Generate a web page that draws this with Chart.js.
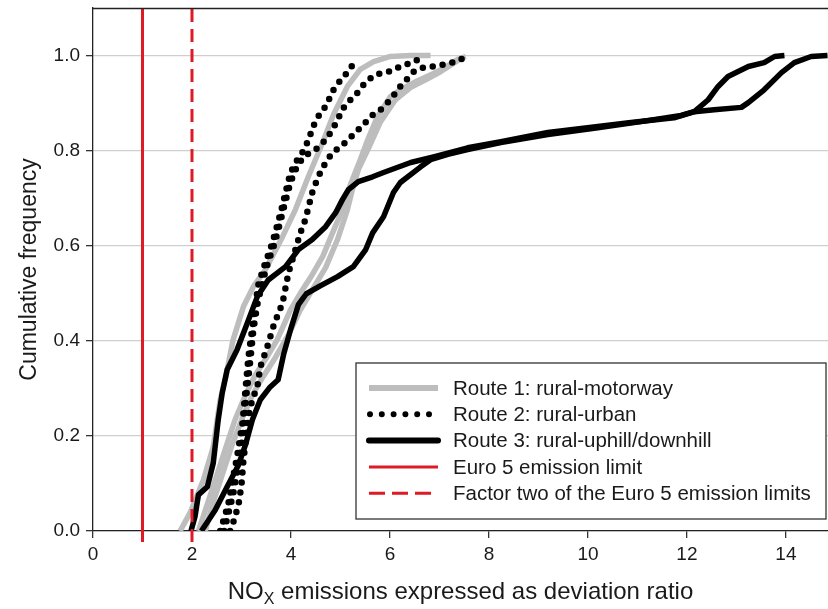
<!DOCTYPE html>
<html>
<head>
<meta charset="utf-8">
<script src="https://cdn.jsdelivr.net/npm/chart.js@4.4.1/dist/chart.umd.min.js"></script>
<style>
  html, body { margin: 0; padding: 0; background: #fff; }
  #wrap { width: 828px; height: 609px; }
</style>
</head>
<body>
<div id="wrap"><canvas id="cdfChart"></canvas></div>
<script>
// eixos
const xTicks = [0, 2, 4, 6, 8, 10, 12, 14];
const yTicks = [0, 0.2, 0.4, 0.6, 0.8, 1.0];
const xMax = 14.85;
const yMax = 1.1;

// limites Euro 5 (x = 1) e fator dois (x = 2)
const euroLimits = [1, 2];

// Route 1: rural-motorway (cinza)
const route1A = [[1.76,0],[1.88,0.023],[1.96,0.038],[2.23,0.107],[2.43,0.177],[2.57,0.276],[2.69,0.328],[2.83,0.402],[3.04,0.472],[3.24,0.514],[3.48,0.549],[3.83,0.619],[4.09,0.676],[4.35,0.745],[4.64,0.817],[4.86,0.876],[5.14,0.935],[5.40,0.971],[5.67,0.987],[6.01,0.998],[6.42,1.0],[6.82,1.0]];
const route1B = [[2.13,0],[2.27,0.044],[2.47,0.107],[2.67,0.171],[2.87,0.234],[3.08,0.286],[3.28,0.328],[3.48,0.36],[3.72,0.402],[3.99,0.465],[4.23,0.507],[4.43,0.539],[4.64,0.577],[4.84,0.627],[5.04,0.676],[5.20,0.728],[5.40,0.781],[5.55,0.823],[5.75,0.872],[6.01,0.914],[6.21,0.928],[6.56,0.947],[6.88,0.962],[7.17,0.979],[7.37,0.992],[7.53,0.998]];
const route1C = [[2.27,0],[2.41,0.055],[2.61,0.118],[2.81,0.181],[3.04,0.244],[3.22,0.286],[3.42,0.322],[3.68,0.364],[3.95,0.413],[4.19,0.465],[4.43,0.507],[4.70,0.554],[4.94,0.613],[5.14,0.676],[5.24,0.718],[5.36,0.76],[5.57,0.806],[5.81,0.861],[6.11,0.907],[6.42,0.933],[6.72,0.949],[7.02,0.966],[7.27,0.983],[7.47,0.996]];

// Route 2: rural-urban (pontilhado)
const route2A = [[2.57,0],[2.65,0.027],[2.73,0.055],[2.81,0.101],[2.91,0.156],[3.02,0.227],[3.08,0.297],[3.14,0.366],[3.22,0.429],[3.28,0.476],[3.34,0.518],[3.48,0.564],[3.58,0.592],[3.68,0.627],[3.79,0.669],[3.89,0.712],[3.99,0.754],[4.13,0.781],[4.23,0.796],[4.33,0.817],[4.49,0.861],[4.60,0.88],[4.70,0.893],[4.86,0.928],[5.04,0.954],[5.16,0.966],[5.26,0.983]];
const route2B = [[2.65,0],[2.73,0.034],[2.83,0.076],[2.94,0.139],[3.04,0.213],[3.10,0.286],[3.18,0.36],[3.24,0.423],[3.32,0.476],[3.42,0.522],[3.54,0.566],[3.66,0.602],[3.77,0.644],[3.87,0.686],[3.99,0.733],[4.11,0.764],[4.25,0.787],[4.55,0.806],[4.70,0.823],[4.84,0.844],[4.96,0.869],[5.10,0.897],[5.30,0.916],[5.51,0.945],[5.71,0.96],[5.97,0.966],[6.21,0.977],[6.48,0.987],[6.68,0.998]];
const route2C = [[2.77,0],[2.85,0.023],[2.94,0.055],[3.00,0.097],[3.04,0.149],[3.08,0.185],[3.14,0.24],[3.18,0.261],[3.24,0.282],[3.32,0.303],[3.38,0.345],[3.52,0.387],[3.64,0.429],[3.72,0.451],[3.83,0.48],[3.95,0.543],[4.09,0.592],[4.19,0.627],[4.29,0.655],[4.43,0.712],[4.55,0.745],[4.70,0.775],[4.84,0.796],[5.00,0.808],[5.16,0.823],[5.30,0.838],[5.47,0.855],[5.61,0.872],[5.81,0.886],[6.01,0.907],[6.21,0.935],[6.48,0.966],[6.68,0.975],[6.88,0.977],[7.09,0.981],[7.33,0.987],[7.55,0.998]];

// Route 3: rural-uphill/downhill (preto)
const route3A = [[1.98,0],[2.06,0.03],[2.13,0.076],[2.31,0.093],[2.43,0.143],[2.53,0.234],[2.61,0.29],[2.71,0.339],[2.91,0.381],[3.12,0.438],[3.32,0.493],[3.54,0.528],[3.89,0.556],[4.15,0.592],[4.43,0.613],[4.70,0.64],[4.90,0.669],[5.04,0.697],[5.16,0.718],[5.36,0.735],[5.65,0.745],[5.87,0.754],[6.42,0.775],[6.88,0.787],[7.57,0.806],[8.24,0.819],[9.19,0.838],[10.20,0.851],[10.87,0.859],[11.74,0.869],[12.15,0.882],[12.55,0.886],[13.10,0.891],[13.24,0.901],[13.56,0.928],[13.91,0.964],[14.17,0.985],[14.51,0.998],[14.84,1.0]];
const route3B = [[2.19,0],[2.31,0.019],[2.47,0.044],[2.71,0.093],[2.94,0.139],[3.08,0.181],[3.22,0.234],[3.38,0.276],[3.58,0.303],[3.74,0.318],[3.85,0.371],[3.99,0.423],[4.15,0.476],[4.31,0.499],[4.60,0.516],[4.94,0.535],[5.26,0.556],[5.51,0.592],[5.65,0.627],[5.87,0.661],[6.07,0.712],[6.21,0.733],[6.62,0.766],[6.82,0.781],[7.17,0.792],[7.57,0.802],[8.24,0.817],[9.19,0.834],[10.20,0.848],[11.07,0.861],[11.88,0.874],[12.15,0.882],[12.43,0.907],[12.63,0.935],[12.83,0.956],[13.24,0.977],[13.56,0.985],[13.77,0.998],[13.97,1.0]];

const grey = '#bdbdbd';
const red = '#de1a24';
const fontFamily = "Arial, 'Liberation Sans', sans-serif";

function toPoints(arr) {
    return arr.map(p => ({x: p[0], y: p[1]}));
}

function routeSet(arr, color, dotted, order) {
    return {
        data: toPoints(arr),
        borderColor: color,
        borderWidth: dotted ? 6.5 : 5.5,
        borderDash: dotted ? [0, 10] : [],
        borderCapStyle: dotted ? 'round' : 'butt',
        borderJoinStyle: 'round',
        pointRadius: 0,
        tension: 0,
        fill: false,
        order: order
    };
}

function limitSet(x, dashed) {
    return {
        data: [{x: x, y: -0.023}, {x: x, y: yMax}],
        borderColor: red,
        borderWidth: 3,
        borderDash: dashed ? [13, 7] : [],
        pointRadius: 0,
        clip: false,
        order: 0
    };
}

// legenda desenhada dentro do gráfico
const legendItems = [
    {label: 'Route 1: rural-motorway', color: grey, width: 6, dash: [], cap: 'butt'},
    {label: 'Route 2: rural-urban', color: '#000', width: 6, dash: [0, 11.8], cap: 'round'},
    {label: 'Route 3: rural-uphill/downhill', color: '#000', width: 6, dash: [], cap: 'round'},
    {label: 'Euro 5 emission limit', color: red, width: 3, dash: [], cap: 'butt'},
    {label: 'Factor two of the Euro 5 emission limits', color: red, width: 3, dash: [16, 7], cap: 'butt'}
];

const boxLegend = {
    id: 'boxLegend',
    afterDraw(chart) {
        const ctx = chart.ctx;
        const area = chart.chartArea;
        const bx = 356, by = 363, bw = area.right - 356 - 2, bh = 156;
        ctx.save();
        ctx.fillStyle = '#fff';
        ctx.fillRect(bx, by, bw, bh);
        ctx.strokeStyle = '#333';
        ctx.lineWidth = 1.3;
        ctx.strokeRect(bx, by, bw, bh);
        ctx.font = '20.5px ' + fontFamily;
        ctx.textBaseline = 'middle';
        legendItems.forEach((item, i) => {
            const yy = 388 + i * 26.3;
            ctx.beginPath();
            ctx.strokeStyle = item.color;
            ctx.lineWidth = item.width;
            ctx.lineCap = item.cap;
            ctx.setLineDash(item.dash);
            ctx.moveTo(item.cap === 'round' && item.dash.length ? 370 : 369, yy);
            ctx.lineTo(item.dash.length && item.cap === 'round' ? 430 : 438, yy);
            ctx.stroke();
            ctx.setLineDash([]);
            ctx.fillStyle = '#1a1a1a';
            ctx.fillText(item.label, 453, yy + 1);
        });
        ctx.restore();
    }
};

// moldura superior e título do eixo x com subscrito
const frameAndTitle = {
    id: 'frameAndTitle',
    afterDraw(chart) {
        const ctx = chart.ctx;
        const area = chart.chartArea;
        ctx.save();
        ctx.strokeStyle = '#222';
        ctx.lineWidth = 1.3;
        ctx.beginPath();
        ctx.moveTo(area.left, area.top + 0.5);
        ctx.lineTo(area.right, area.top + 0.5);
        ctx.stroke();

        const big = '24px ' + fontFamily;
        const small = '16px ' + fontFamily;
        const p1 = 'NO', sub = 'X', p2 = ' emissions expressed as deviation ratio';
        ctx.font = big;
        const w1 = ctx.measureText(p1).width;
        const w2 = ctx.measureText(p2).width;
        ctx.font = small;
        const ws = ctx.measureText(sub).width;
        const total = w1 + ws + w2;
        let x = (area.left + area.right) / 2 - total / 2;
        const base = 599;
        ctx.fillStyle = '#1a1a1a';
        ctx.textBaseline = 'alphabetic';
        ctx.textAlign = 'left';
        ctx.font = big;
        ctx.fillText(p1, x, base);
        x += w1;
        ctx.font = small;
        ctx.fillText(sub, x, base + 5);
        x += ws;
        ctx.font = big;
        ctx.fillText(p2, x, base);
        ctx.restore();
    }
};

const ctx = document.getElementById('cdfChart').getContext('2d');
const cdfChart = new Chart(ctx, {
    type: 'line',
    data: {
        datasets: [
            limitSet(euroLimits[0], false),
            limitSet(euroLimits[1], true),
            routeSet(route3A, '#000', false, 1),
            routeSet(route3B, '#000', false, 1),
            routeSet(route2A, '#000', true, 2),
            routeSet(route2B, '#000', true, 2),
            routeSet(route2C, '#000', true, 2),
            routeSet(route1A, grey, false, 3),
            routeSet(route1B, grey, false, 3),
            routeSet(route1C, grey, false, 3)
        ]
    },
    options: {
        responsive: true,
        maintainAspectRatio: false,
        animation: false,
        layout: {
            padding: {top: 8, right: 0, left: 0, bottom: 0}
        },
        plugins: {
            legend: {display: false},
            tooltip: {enabled: false}
        },
        scales: {
            x: {
                type: 'linear',
                min: 0,
                max: xMax,
                afterBuildTicks: s => { s.ticks = xTicks.map(v => ({value: v})); },
                afterFit: s => { s.height = 78; s.paddingLeft = 0; s.paddingRight = 0; },
                grid: {
                    drawOnChartArea: false,
                    drawTicks: true,
                    tickLength: 7,
                    color: '#333',
                    lineWidth: 1.3
                },
                border: {display: true, color: '#222', width: 1.3},
                ticks: {
                    font: {family: fontFamily, size: 19},
                    color: '#1a1a1a',
                    padding: 5,
                    maxRotation: 0
                }
            },
            y: {
                min: 0,
                max: yMax,
                afterBuildTicks: s => { s.ticks = yTicks.map(v => ({value: v})); },
                afterFit: s => { s.width = 93; s.paddingTop = 0; s.paddingBottom = 0; },
                grid: {
                    color: '#cfcfcf',
                    lineWidth: 1.3,
                    drawTicks: true,
                    tickLength: 7,
                    tickColor: '#333'
                },
                border: {display: true, color: '#222', width: 1.3},
                ticks: {
                    font: {family: fontFamily, size: 19},
                    color: '#1a1a1a',
                    padding: 6,
                    callback: v => v.toFixed(1)
                },
                title: {
                    display: true,
                    text: 'Cumulative frequency',
                    font: {family: fontFamily, size: 23},
                    color: '#1a1a1a',
                    padding: {top: 16, bottom: 0}
                }
            }
        }
    },
    plugins: [boxLegend, frameAndTitle]
});
</script>
</body>
</html>
